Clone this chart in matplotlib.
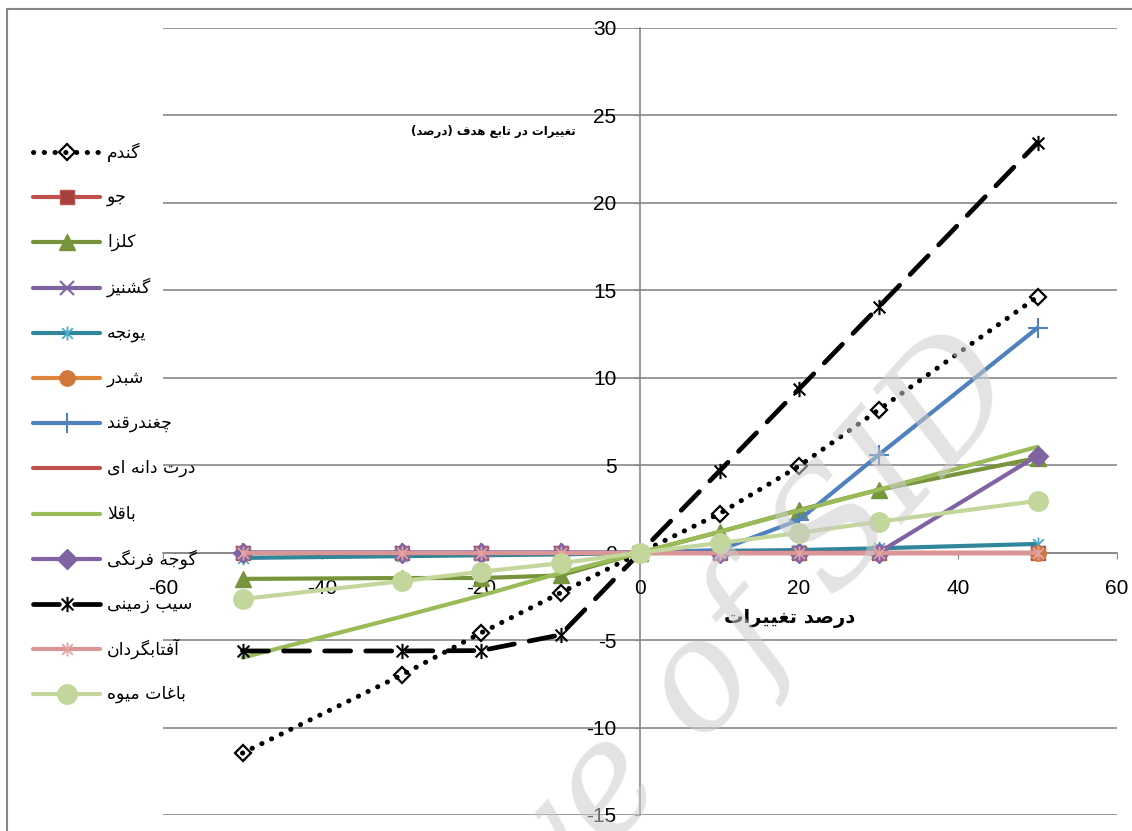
import numpy as np
import matplotlib
matplotlib.use("Agg")
import matplotlib.pyplot as plt
from matplotlib.path import Path
from matplotlib.lines import Line2D
from matplotlib.patches import Rectangle

plt.rcParams['axes.unicode_minus'] = False

# percent change applied to each input
x_vals = [-50, -30, -20, -10, 0, 10, 20, 30, 50]

# change in objective function (%) per crop
wheat      = [-11.46, -7.0, -4.59, -2.3, 0, 2.23, 4.95, 8.16, 14.63]
barley     = [0, 0, 0, 0, 0, 0, 0, 0, 0]
rapeseed   = [-1.5, -1.45, -1.45, -1.3, 0, 1.18, 2.44, 3.59, 5.42]
coriander  = [0, 0, 0, 0, 0, 0, 0, 0, 0]
alfalfa    = [-0.3, -0.2, -0.15, -0.1, 0, 0.1, 0.15, 0.25, 0.5]
clover     = [0, 0, 0, 0, 0, 0, 0, 0, 0]
sugarbeet  = [0, 0, 0, 0, 0, 0.15, 1.87, 5.58, 12.85]
corn       = [0, 0, 0, 0, 0, 0, 0, 0, 0]
broadbean  = [-6.0, -3.66, -2.45, -1.16, 0, 1.2, 2.4, 3.6, 6.05]
tomato     = [0, 0, 0, 0, 0, 0, 0, 0, 5.55]
potato     = [-5.62, -5.62, -5.6, -4.7, 0, 4.67, 9.36, 14.04, 23.44]
sunflower  = [0, 0, 0, 0, 0, 0, 0, 0, 0]
orchards   = [-2.65, -1.63, -1.09, -0.6, 0, 0.55, 1.13, 1.77, 2.96]

labels = ["گندم", "جو", "کلزا", "گشنیز", "یونجه", "شبدر", "چغندرقند",
          "درت دانه ای", "باقلا", "گوجه فرنگی", "سیب زمینی", "آفتابگردان", "باغات میوه"]

x_ticks = [-60, -40, -20, 0, 20, 40, 60]
y_ticks = [-15, -10, -5, 0, 5, 10, 15, 20, 25, 30]

# --- minimal Persian shaping (presentation forms + visual order) ---
R_JOIN = {
    'ا': (0xFE8D, 0xFE8E), 'آ': (0xFE81, 0xFE82), 'د': (0xFEA9, 0xFEAA),
    'ذ': (0xFEAB, 0xFEAC), 'ر': (0xFEAD, 0xFEAE), 'ز': (0xFEAF, 0xFEB0),
    'ژ': (0xFB8A, 0xFB8B), 'و': (0xFEED, 0xFEEE),
}
D_JOIN = {
    'ب': 0xFE8F, 'ت': 0xFE95, 'ث': 0xFE99, 'ج': 0xFE9D, 'ح': 0xFEA1,
    'خ': 0xFEA5, 'س': 0xFEB1, 'ش': 0xFEB5, 'ص': 0xFEB9, 'ض': 0xFEBD,
    'ط': 0xFEC1, 'ظ': 0xFEC5, 'ع': 0xFEC9, 'غ': 0xFECD, 'ف': 0xFED1,
    'ق': 0xFED5, 'ل': 0xFEDD, 'م': 0xFEE1, 'ن': 0xFEE5, 'ه': 0xFEE9,
    'پ': 0xFB56, 'چ': 0xFB7A, 'ک': 0xFB8E, 'گ': 0xFB92, 'ی': 0xFBFC,
}


def shape_fa(text):
    out = []
    i = 0
    n = len(text)
    while i < n:
        c = text[i]
        prev = text[i - 1] if i > 0 else ''
        nxt = text[i + 1] if i + 1 < n else ''
        joins_prev = prev in D_JOIN
        if c == 'ل' and nxt in ('ا', 'آ'):
            base = 0xFEFB if nxt == 'ا' else 0xFEF5
            out.append(chr(base + (1 if joins_prev else 0)))
            i += 2
            continue
        if c in R_JOIN:
            iso, fin = R_JOIN[c]
            out.append(chr(fin if joins_prev else iso))
        elif c in D_JOIN:
            b = D_JOIN[c]
            joins_next = nxt in D_JOIN or nxt in R_JOIN
            if joins_prev and joins_next:
                out.append(chr(b + 3))
            elif joins_prev:
                out.append(chr(b + 1))
            elif joins_next:
                out.append(chr(b + 2))
            else:
                out.append(chr(b))
        else:
            out.append(c)
        i += 1
    vis = ''.join(reversed(out))
    return vis.translate(str.maketrans('()', ')('))


# Excel-like star marker: an x with a vertical stroke
star = Path([(-1, -1), (1, 1), (-1, 1), (1, -1), (0, -1.3), (0, 1.3)],
            [Path.MOVETO, Path.LINETO, Path.MOVETO, Path.LINETO, Path.MOVETO, Path.LINETO])

series = [
    (wheat, dict(color='black', lw=3.6, ls=(0, (0.05, 2.1)), dash_capstyle='round',
                 marker='D', ms=8.5, mfc='none', mec='black', mew=1.6)),
    (barley, dict(color='#C0504D', lw=3, marker='s', ms=10, mfc='#A5403C', mec='#C0504D')),
    (rapeseed, dict(color='#77933C', lw=3, marker='^', ms=11, mfc='#77933C', mec='#77933C')),
    (coriander, dict(color='#7F62A1', lw=3, marker='x', ms=10, mec='#7F62A1', mew=1.5)),
    (alfalfa, dict(color='#31869B', lw=3, marker=star, ms=10, mec='#4BACC6', mew=1.3)),
    (clover, dict(color='#E0853A', lw=3, marker='o', ms=11, mfc='#D0783A', mec='#D0783A')),
    (sugarbeet, dict(color='#4F81BD', lw=3, marker='+', ms=14, mec='#4F81BD', mew=1.5)),
    (corn, dict(color='#C0504D', lw=3)),
    (broadbean, dict(color='#9BBB59', lw=3)),
    (tomato, dict(color='#8064A2', lw=3, marker='D', ms=10, mfc='#8064A2', mec='#8064A2')),
    (potato, dict(color='black', lw=3.4, ls=(0, (5.5, 3.2)), dash_capstyle='round',
                  marker=star, ms=11, mec='black', mew=1.5)),
    (sunflower, dict(color='#D99694', lw=3, marker=star, ms=10, mec='#E6A3A0', mew=1.3)),
    (orchards, dict(color='#C3D69B', lw=3, marker='o', ms=14, mfc='#C3D69B', mec='#C3D69B')),
]

fig = plt.figure(figsize=(11.32, 8.31), dpi=100)
W, H = 1132.0, 831.0
ax = fig.add_axes([163 / W, 1 - 815 / H, 954 / W, 787 / H])

for data, style in series:
    ax.plot(x_vals, data, solid_capstyle='round', **style)

ax.set_xlim(-60, 60)
ax.set_ylim(-15, 30)
ax.set_xticks(x_ticks)
ax.set_yticks(y_ticks)
ax.yaxis.grid(True, color='#878787', lw=1.2, zorder=0)
ax.set_axisbelow(True)

gray = '#878787'
ax.spines['left'].set_position(('data', 0))
ax.spines['bottom'].set_position(('data', 0))
for s in ('top', 'right'):
    ax.spines[s].set_visible(False)
for s in ('left', 'bottom'):
    ax.spines[s].set_color(gray)
    ax.spines[s].set_linewidth(1.2)
    ax.spines[s].set_zorder(0.5)

ax.tick_params(axis='x', direction='out', length=4, color=gray, pad=15,
               labelsize=15, labelcolor='black')
ax.tick_params(axis='y', direction='out', length=4, color=gray, pad=13,
               labelsize=15, labelcolor='black')
for lab in ax.get_xticklabels() + ax.get_yticklabels():
    lab.set_fontfamily('Liberation Sans')

# axis titles
fig.text(790 / W, 1 - 618 / H, shape_fa("درصد تغییرات"), ha='center', va='center',
         fontsize=14, fontweight='bold', family='DejaVu Sans')
fig.text(493 / W, 1 - 131 / H, shape_fa("تغییرات در تابع هدف (درصد)"), ha='center',
         va='center', fontsize=8.5, fontweight='bold', family='DejaVu Sans')

# legend, drawn row by row at the left edge
row_y0, row_dy = 152, 45.2
for k, ((data, style), name) in enumerate(zip(series, labels)):
    yy = 1 - (row_y0 + k * row_dy) / H
    ln = Line2D([33 / W, 100 / W], [yy, yy], transform=fig.transFigure,
                solid_capstyle='round', **style)
    ln.set_markevery([])
    fig.add_artist(ln)
    mk = dict(style)
    mk.pop('ls', None)
    mk.pop('lw', None)
    mk.pop('dash_capstyle', None)
    fig.add_artist(Line2D([66.5 / W], [yy], transform=fig.transFigure, lw=0, **mk))
    fig.text(107 / W, yy, shape_fa(name), ha='left', va='center', fontsize=12.5,
             family='DejaVu Sans')

# chart area border
fig.add_artist(Rectangle((7 / W, -0.2), 1.2, 1.2 - 9 / H, transform=fig.transFigure,
                         fill=False, ec=gray, lw=1.5))

# watermark
fig.text(622 / W, 1 - 785 / H, "Archive of SID", rotation=48, ha='center', va='center',
         fontsize=110, style='italic', family='DejaVu Serif', color='#cccccc',
         alpha=0.55, zorder=10)

fig.savefig("out.png", dpi=100)
